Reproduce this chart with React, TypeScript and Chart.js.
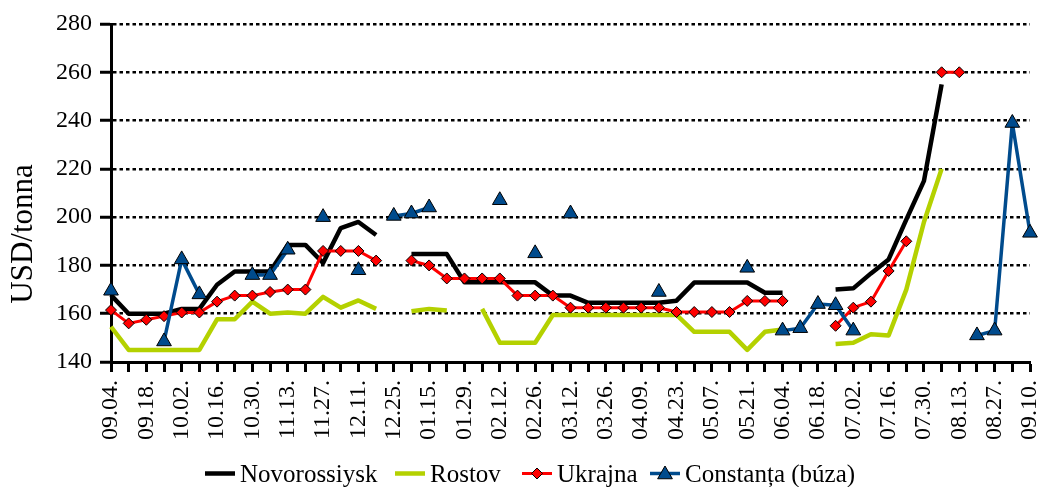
import { useEffect, useRef } from 'react';
import { Chart, registerables } from 'chart.js';

Chart.register(...registerables);

// ---- data ----
const categories = [
  '09.04.', '09.11.', '09.18.', '09.25.', '10.02.', '10.09.', '10.16.', '10.23.', '10.30.', '11.06.',
  '11.13.', '11.20.', '11.27.', '12.04.', '12.11.', '12.18.', '12.25.', '01.08.', '01.15.', '01.22.',
  '01.29.', '02.05.', '02.12.', '02.19.', '02.26.', '03.05.', '03.12.', '03.19.', '03.26.', '04.02.',
  '04.09.', '04.16.', '04.23.', '04.30.', '05.07.', '05.14.', '05.21.', '05.28.', '06.04.', '06.11.',
  '06.18.', '06.25.', '07.02.', '07.09.', '07.16.', '07.23.', '07.30.', '08.06.', '08.13.', '08.20.',
  '08.27.', '09.03.', '09.10.',
];

const novorossiysk: (number | null)[] = [
  167.7, 160, 160, 160, 162, 162, 172, 177.5, 177.5, 177.5,
  188.5, 188.5, 181, 195.5, 198, 192.6, null, 184.7, 184.7, 184.7,
  173, 173, 173, 173, 173, 167.5, 167.5, 164.5, 164.5, 164.5,
  164.5, 164.5, 165.4, 172.9, 172.9, 172.9, 172.9, 168.7, 168.7, null,
  null, 170, 170.5, 176.7, 182.5, 199, 215, 255, null, null,
  null, null, null,
];

const rostov: (number | null)[] = [
  154.6, 145, 145, 145, 145, 145, 157.7, 157.7, 165, 160,
  160.5, 160, 167, 162.5, 165.5, 162, null, 161, 162, 161.3,
  null, 162, 148, 148, 148, 159.5, 159.5, 159.5, 159.5, 159.5,
  159.5, 159.5, 159.5, 152.5, 152.5, 152.5, 145, 152.5, 153.5, null,
  null, 147.5, 148, 151.5, 151, 170, 198, 220, null, null,
  null, null, null,
];

const ukrajna: (number | null)[] = [
  161.5, 156, 157.5, 159, 160.5, 160.5, 165, 167.5, 167.5, 169,
  170, 170, 186, 186, 186, 182, null, 182, 180, 174.6,
  174.6, 174.6, 174.6, 167.5, 167.5, 167.5, 162.5, 162.5, 162.5, 162.5,
  162.5, 162.5, 160.7, 160.7, 160.7, 160.7, 165.3, 165.3, 165.3, null,
  null, 155, 162.5, 165, 177.7, 190, null, 260, 260, null,
  null, null, null,
];

const constanta: (number | null)[] = [
  169.5, null, null, 148.5, 182.5, 168, null, null, 176, 176,
  186.5, null, 200, null, 178, null, 200.5, 201.5, 204, null,
  null, null, 207, null, 185, null, 201.5, null, null, null,
  null, 169, null, null, null, null, 179, null, 153, 154,
  164, 163.5, 153, null, null, null, null, null, null, 151,
  153, 239, 193.5,
];

const seriesNames = ['Novorossiysk', 'Rostov', 'Ukrajna', 'Constanța (búza)'];
const yTitle = 'USD/tonna';
const yMin = 140;
const yMax = 280;
const yStep = 20;

// ---- styles ----
const FONT = "'Liberation Serif', 'Times New Roman', serif";
const C_BLACK = '#000000';
const C_GREEN = '#B4D100';
const C_RED = '#FF0000';
const C_BLUE = '#004B8D';

type LegendItem = { color: string; lw: number; marker: 'none' | 'diamond' | 'triangle'; fill: string };
const legendItems: LegendItem[] = [
  { color: C_BLACK, lw: 4.5, marker: 'none', fill: '' },
  { color: C_GREEN, lw: 4.5, marker: 'none', fill: '' },
  { color: C_RED, lw: 3, marker: 'diamond', fill: C_RED },
  { color: C_BLUE, lw: 3.5, marker: 'triangle', fill: C_BLUE },
];
const legendX = [205, 395, 522, 650];

const overlayPlugin = {
  id: 'overlay',
  afterDraw(chart: any) {
    const ctx: CanvasRenderingContext2D = chart.ctx;
    ctx.save();
    // y-axis title
    ctx.save();
    ctx.translate(31.5, 234);
    ctx.rotate(-Math.PI / 2);
    ctx.font = `31px ${FONT}`;
    ctx.fillStyle = '#000';
    ctx.textAlign = 'center';
    ctx.textBaseline = 'alphabetic';
    ctx.fillText(yTitle, 0, 0);
    ctx.restore();

    // legend
    const ly = 473.5;
    ctx.font = `25px ${FONT}`;
    ctx.textAlign = 'left';
    ctx.textBaseline = 'alphabetic';
    legendItems.forEach((it, i) => {
      const x0 = legendX[i];
      ctx.strokeStyle = it.color;
      ctx.lineWidth = it.lw;
      ctx.beginPath();
      ctx.moveTo(x0, ly);
      ctx.lineTo(x0 + 30, ly);
      ctx.stroke();
      const cx = x0 + 15;
      if (it.marker === 'diamond') {
        const r = 5.5;
        ctx.beginPath();
        ctx.moveTo(cx - r, ly);
        ctx.lineTo(cx, ly - r);
        ctx.lineTo(cx + r, ly);
        ctx.lineTo(cx, ly + r);
        ctx.closePath();
        ctx.fillStyle = it.fill;
        ctx.fill();
        ctx.strokeStyle = '#000';
        ctx.lineWidth = 1;
        ctx.stroke();
      } else if (it.marker === 'triangle') {
        const r = 8.5;
        const cy = ly + 1;
        ctx.beginPath();
        ctx.moveTo(cx, cy - r);
        ctx.lineTo(cx + r * 0.866, cy + r / 2);
        ctx.lineTo(cx - r * 0.866, cy + r / 2);
        ctx.closePath();
        ctx.fillStyle = it.fill;
        ctx.fill();
        ctx.strokeStyle = '#000';
        ctx.lineWidth = 1;
        ctx.stroke();
      }
      ctx.fillStyle = '#000';
      ctx.fillText(seriesNames[i], x0 + 35, 482);
    });
    ctx.restore();
  },
};

export default function App() {
  const ref = useRef<HTMLCanvasElement | null>(null);

  useEffect(() => {
    document.body.style.margin = '0';
    if (!ref.current) return;
    const chart = new Chart(ref.current, {
      type: 'line',
      data: {
        labels: categories,
        datasets: [
          {
            label: seriesNames[0],
            data: novorossiysk,
            borderColor: C_BLACK,
            backgroundColor: C_BLACK,
            borderWidth: 4.5,
            pointRadius: 0,
            order: 4,
          },
          {
            label: seriesNames[1],
            data: rostov,
            borderColor: C_GREEN,
            backgroundColor: C_GREEN,
            borderWidth: 4.5,
            pointRadius: 0,
            order: 3,
          },
          {
            label: seriesNames[2],
            data: ukrajna,
            borderColor: C_RED,
            backgroundColor: C_RED,
            borderWidth: 3,
            pointStyle: 'rectRot',
            pointRadius: 5.5,
            pointBackgroundColor: C_RED,
            pointBorderColor: '#000',
            pointBorderWidth: 1,
            order: 2,
          },
          {
            label: seriesNames[3],
            data: constanta,
            borderColor: C_BLUE,
            backgroundColor: C_BLUE,
            borderWidth: 3.5,
            pointStyle: 'triangle',
            pointRadius: 8.5,
            pointBackgroundColor: C_BLUE,
            pointBorderColor: '#000',
            pointBorderWidth: 1,
            order: 1,
          },
        ] as any,
      },
      options: {
        animation: false,
        responsive: false,
        layout: { padding: { left: 0, right: 8, top: 24, bottom: 0 }, autoPadding: false },
        plugins: {
          legend: { display: false },
          tooltip: { enabled: false },
        },
        elements: {
          line: { tension: 0, borderJoinStyle: 'round', borderCapStyle: 'butt' },
        },
        datasets: { line: { clip: false, spanGaps: false } } as any,
        scales: {
          x: {
            type: 'category',
            offset: false,
            grid: {
              drawOnChartArea: false,
              drawTicks: true,
              tickLength: 10,
              tickWidth: 3,
              tickColor: '#000',
            },
            border: { display: true, color: '#000', width: 3 },
            ticks: {
              autoSkip: false,
              maxRotation: 90,
              minRotation: 90,
              padding: 8,
              color: '#000',
              font: { family: FONT, size: 24 },
              callback: (_v: any, i: number) => (i % 2 === 0 ? categories[i] : ''),
            },
            afterFit: (s: any) => {
              s.height = 125;
              s.paddingLeft = 0;
              s.paddingRight = 0;
            },
          },
          y: {
            min: yMin,
            max: yMax,
            ticks: {
              stepSize: yStep,
              padding: 8,
              color: '#000',
              font: { family: FONT, size: 24 },
            },
            grid: {
              color: '#000',
              lineWidth: 2.5,
              drawTicks: true,
              tickLength: 11,
              tickWidth: 3,
              tickColor: '#000',
              tickBorderDash: [],
            },
            border: { display: true, color: '#000', width: 3, dash: [3.5, 3] },
            afterFit: (s: any) => {
              s.width = 111;
              s.paddingTop = 0;
              s.paddingBottom = 0;
            },
          },
        } as any,
      },
      plugins: [overlayPlugin],
    });
    return () => chart.destroy();
  }, []);

  return <canvas ref={ref} width={1038} height={487} style={{ display: 'block' }} />;
}
